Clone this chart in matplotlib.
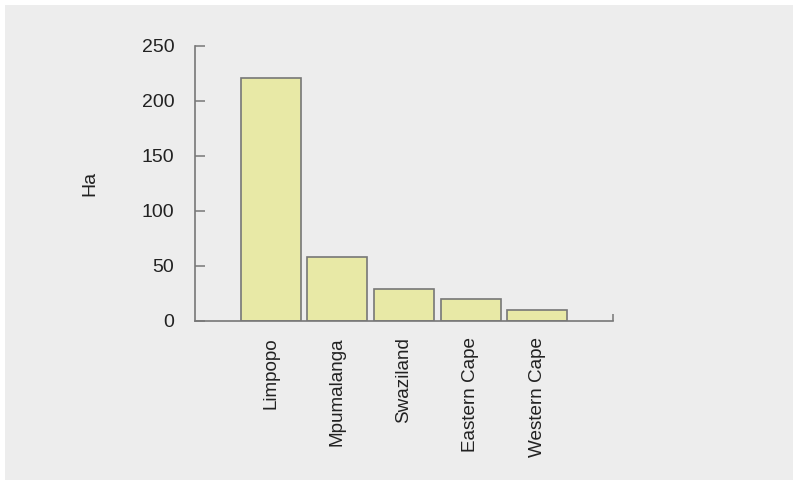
import matplotlib
matplotlib.use('Agg')
import matplotlib.pyplot as plt
from matplotlib.patches import Rectangle

# data
regions = ['Limpopo', 'Mpumalanga', 'Swaziland', 'Eastern Cape', 'Western Cape']
hectares = [221, 58, 29, 20, 10]
yticks = [0, 50, 100, 150, 200, 250]

plt.rcParams['font.family'] = ['Liberation Sans', 'DejaVu Sans']

W, H = 793, 480
fig = plt.figure(figsize=(W / 100, H / 100), dpi=100, facecolor='white')
# grey panel, leaves a thin white strip top and left
fig.patches.append(Rectangle((5 / W, 0), 1, (H - 5) / H, transform=fig.transFigure,
                             facecolor='#ededed', edgecolor='none', zorder=-10))

ax = fig.add_axes([195 / W, (H - 320.7) / H, 418 / W, 275 / H])
ax.set_facecolor('none')

x = list(range(len(regions)))
ax.bar(x, hectares, width=0.9, color='#e8e9a6', edgecolor='#777777', linewidth=1.2, zorder=2)

ax.set_xlim(-1.135, 5.134)
ax.set_ylim(0, 250)
ax.set_yticks(yticks)
ax.set_yticklabels([str(v) for v in yticks])
ax.set_xticks(x)
ax.set_xticklabels(regions, rotation=90, va='top', ha='center')
ax.set_xticks([5.134], minor=True)

for s in ['top', 'right']:
    ax.spines[s].set_visible(False)
for s in ['left', 'bottom']:
    ax.spines[s].set_color('#777777')
    ax.spines[s].set_linewidth(1.2)

ax.tick_params(axis='y', direction='in', length=7.3, width=1.1, color='#777777',
               pad=15, labelsize=14, labelcolor='#222222')
ax.tick_params(axis='x', which='major', length=0, pad=12, labelsize=13.6, labelcolor='#222222')
ax.tick_params(axis='x', which='minor', direction='in', length=4.7, width=1.1, color='#777777')

ax.set_ylabel('Ha', fontsize=14, color='#222222')
ax.yaxis.set_label_coords(-0.23, 0.5)

fig.savefig('out.png', dpi=100, facecolor=fig.get_facecolor())
